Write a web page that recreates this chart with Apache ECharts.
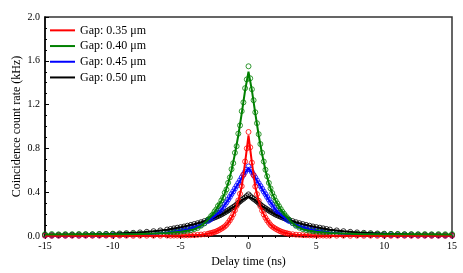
<!DOCTYPE html>
<html>
<head>
<meta charset="utf-8">
<script src="https://cdn.jsdelivr.net/npm/echarts@6/dist/echarts.min.js"></script>
<style>html,body{margin:0;padding:0;background:#fff}#c{width:463px;height:273px}</style>
</head>
<body>
<div id="c"></div>
<script>
// Legend names
var seriesNames = ['Gap: 0.35 \u03bcm', 'Gap: 0.40 \u03bcm', 'Gap: 0.45 \u03bcm', 'Gap: 0.50 \u03bcm'];
var seriesColors = ['#ff0000', '#008000', '#0000ff', '#000000'];

// Fitted curves (delay time in ns, rate in kHz)
var xFit = [-15,-12,-10,-8,-7,-6,-5,-4.5,-4,-3.5,-3,-2.5,-2,-1.75,-1.5,-1.25,-1,-0.75,-0.5,-0.25,0,0.25,0.5,0.75,1,1.25,1.5,1.75,2,2.5,3,3.5,4,4.5,5,6,7,8,10,12,15];
var fitRed   = [0.002,0.002,0.002,0.002,0.003,0.003,0.004,0.006,0.008,0.012,0.020,0.035,0.065,0.085,0.120,0.165,0.230,0.320,0.450,0.670,0.920,0.670,0.450,0.320,0.230,0.165,0.120,0.085,0.065,0.035,0.020,0.012,0.008,0.006,0.004,0.003,0.003,0.002,0.002,0.002,0.002];
var fitGreen = [0.014,0.015,0.016,0.019,0.022,0.028,0.038,0.048,0.062,0.092,0.145,0.220,0.320,0.390,0.480,0.600,0.750,0.920,1.120,1.330,1.500,1.330,1.120,0.920,0.750,0.600,0.480,0.390,0.320,0.220,0.145,0.092,0.062,0.048,0.038,0.028,0.022,0.019,0.016,0.015,0.014];
var fitBlue  = [0.003,0.005,0.008,0.014,0.020,0.030,0.048,0.060,0.077,0.100,0.135,0.180,0.240,0.285,0.330,0.380,0.430,0.480,0.530,0.580,0.620,0.580,0.530,0.480,0.430,0.380,0.330,0.285,0.240,0.180,0.135,0.100,0.077,0.060,0.048,0.030,0.020,0.014,0.008,0.005,0.003];
var fitBlack = [0.008,0.013,0.020,0.032,0.043,0.058,0.080,0.093,0.108,0.125,0.145,0.168,0.195,0.213,0.232,0.252,0.272,0.300,0.325,0.345,0.360,0.345,0.325,0.300,0.272,0.252,0.232,0.213,0.195,0.168,0.145,0.125,0.108,0.093,0.080,0.058,0.043,0.032,0.020,0.013,0.008];

// Measured points
var tS = [-15,-14.5,-14,-13.5,-13,-12.5,-12,-11.5,-11,-10.5,-10,-9.5,-9,-8.5,-8,-7.5,-7,-6.5,
  -6,-5.75,-5.5,-5.25,-5,-4.75,-4.5,-4.25,-4,-3.75,-3.5,-3.25,
  -3,-2.875,-2.75,-2.625,-2.5,-2.375,-2.25,-2.125,-2,-1.875,-1.75,-1.625,-1.5,-1.375,-1.25,-1.125,-1,-0.875,-0.75,-0.625,-0.5,-0.375,-0.25,-0.125,
  0,
  0.125,0.25,0.375,0.5,0.625,0.75,0.875,1,1.125,1.25,1.375,1.5,1.625,1.75,1.875,2,2.125,2.25,2.375,2.5,2.625,2.75,2.875,3,
  3.25,3.5,3.75,4,4.25,4.5,4.75,5,5.25,5.5,5.75,6,
  6.5,7,7.5,8,8.5,9,9.5,10,10.5,11,11.5,12,12.5,13,13.5,14,14.5,15];

var ptsRed = [0.003,0.002,0.003,0.002,0.003,0.002,0.003,0.002,0.003,0.003,0.002,0.003,0.003,0.002,0.003,0.003,0.003,0.003,
  0.004,0.003,0.004,0.004,0.005,0.005,0.006,0.007,0.008,0.010,0.013,0.016,
  0.020,0.024,0.027,0.032,0.036,0.042,0.049,0.057,0.067,0.076,0.087,0.102,0.122,0.143,0.168,0.198,0.235,0.275,0.325,0.385,0.455,0.560,0.680,0.800,
  0.950,
  0.810,0.670,0.555,0.452,0.382,0.322,0.272,0.232,0.197,0.166,0.141,0.121,0.101,0.086,0.076,0.066,0.057,0.049,0.042,0.036,0.031,0.027,0.023,0.020,
  0.016,0.012,0.010,0.008,0.007,0.006,0.005,0.004,0.004,0.004,0.003,0.003,
  0.003,0.003,0.002,0.003,0.002,0.003,0.002,0.003,0.002,0.003,0.002,0.003,0.002,0.003,0.002,0.003,0.002,0.003];

var ptsGreen = [0.016,0.018,0.015,0.017,0.016,0.018,0.017,0.016,0.018,0.017,0.018,0.017,0.019,0.018,0.020,0.021,0.023,0.026,
  0.029,0.030,0.033,0.035,0.039,0.043,0.049,0.053,0.063,0.073,0.094,0.115,
  0.148,0.160,0.183,0.197,0.224,0.243,0.274,0.290,0.325,0.350,0.395,0.425,0.486,0.535,0.610,0.665,0.760,0.820,0.935,1.010,1.140,1.220,1.350,1.430,
  1.550,
  1.440,1.340,1.240,1.130,1.030,0.930,0.840,0.760,0.680,0.605,0.545,0.485,0.435,0.392,0.358,0.322,0.297,0.272,0.247,0.222,0.202,0.182,0.163,0.147,
  0.119,0.093,0.076,0.063,0.055,0.049,0.043,0.039,0.036,0.033,0.031,0.029,
  0.026,0.023,0.021,0.020,0.019,0.018,0.018,0.017,0.017,0.018,0.016,0.017,0.016,0.017,0.016,0.017,0.016,0.017];

var ptsBlue = [0.004,0.003,0.004,0.004,0.005,0.004,0.005,0.006,0.006,0.007,0.008,0.009,0.011,0.012,0.014,0.017,0.020,0.025,
  0.031,0.034,0.039,0.043,0.049,0.054,0.061,0.068,0.078,0.088,0.101,0.118,
  0.136,0.146,0.158,0.169,0.182,0.196,0.212,0.226,0.243,0.263,0.287,0.307,0.333,0.357,0.383,0.407,0.433,0.458,0.484,0.508,0.535,0.560,0.585,0.607,
  0.635,
  0.608,0.584,0.558,0.533,0.507,0.482,0.457,0.432,0.406,0.382,0.356,0.332,0.306,0.286,0.263,0.242,0.226,0.211,0.196,0.181,0.169,0.157,0.146,0.136,
  0.118,0.101,0.089,0.078,0.069,0.061,0.055,0.049,0.044,0.039,0.035,0.031,
  0.025,0.021,0.017,0.014,0.012,0.011,0.010,0.008,0.007,0.007,0.006,0.005,0.005,0.004,0.004,0.004,0.003,0.003];

var ptsBlack = [0.009,0.009,0.010,0.011,0.012,0.013,0.014,0.015,0.017,0.019,0.021,0.023,0.026,0.029,0.033,0.038,0.044,0.051,
  0.059,0.064,0.070,0.076,0.081,0.087,0.094,0.101,0.109,0.117,0.126,0.136,
  0.146,0.151,0.157,0.163,0.169,0.175,0.182,0.189,0.197,0.206,0.215,0.224,0.234,0.244,0.254,0.264,0.275,0.288,0.303,0.316,0.329,0.340,0.352,0.365,
  0.380,
  0.364,0.351,0.339,0.328,0.315,0.302,0.287,0.274,0.263,0.253,0.243,0.233,0.223,0.214,0.205,0.196,0.189,0.182,0.175,0.169,0.163,0.157,0.151,0.146,
  0.136,0.126,0.117,0.109,0.101,0.094,0.087,0.081,0.076,0.070,0.064,0.059,
  0.051,0.044,0.038,0.033,0.029,0.026,0.023,0.021,0.019,0.017,0.015,0.014,0.013,0.012,0.011,0.010,0.009,0.009];

// Axis ticks
var xTicks = { min: -15, max: 15, step: 5 };
var yTicks = { min: 0, max: 2.0, step: 0.4 };

var FONT = '"Liberation Serif", "Times New Roman", serif';
function pairs(xs, ys) { return xs.map(function (x, i) { return [x, ys[i]]; }); }

var fits = [fitRed, fitGreen, fitBlue, fitBlack];
var pts = [ptsRed, ptsGreen, ptsBlue, ptsBlack];
var drawOrder = [3, 2, 0, 1];
var series = [];
drawOrder.forEach(function (k) {
  series.push({
    name: seriesNames[k], type: 'line', data: pairs(xFit, fits[k]),
    symbol: 'none', smooth: false, lineStyle: { color: seriesColors[k], width: 2 },
    itemStyle: { color: seriesColors[k] }, silent: true, animation: false
  });
  series.push({
    name: 'pts' + k, type: 'scatter', data: pairs(tS, pts[k]),
    symbol: 'circle', symbolSize: 5,
    itemStyle: { color: 'rgba(0,0,0,0)', borderColor: seriesColors[k], borderWidth: 1 },
    silent: true, animation: false
  });
});

var chart = echarts.init(document.getElementById('c'), null, { renderer: 'canvas' });
chart.setOption({
  animation: false,
  backgroundColor: '#ffffff',
  grid: { left: 45, right: 11, top: 17, bottom: 37, containLabel: false, outerBoundsMode: 'none', show: true, borderColor: '#333', borderWidth: 1.5, backgroundColor: 'transparent' },
  legend: {
    data: seriesNames.map(function (n) { return { name: n, icon: 'rect' }; }),
    left: 45, top: 19, orient: 'vertical', itemWidth: 25, itemHeight: 2, itemGap: 3,
    textStyle: { fontFamily: FONT, fontSize: 12, color: '#000', lineHeight: 12.7 }
  },
  xAxis: {
    type: 'value', min: xTicks.min, max: xTicks.max, interval: xTicks.step,
    name: 'Delay time (ns)', nameLocation: 'middle', nameGap: 18,
    nameTextStyle: { fontFamily: FONT, fontSize: 12, color: '#000' },
    axisLine: { onZero: false, lineStyle: { color: '#000', width: 1.5 } },
    axisTick: { inside: false, length: 3, lineStyle: { color: '#000' } },
    minorTick: { show: true, splitNumber: 5, length: 2, lineStyle: { color: '#000' } },
    axisLabel: { fontFamily: FONT, fontSize: 10, color: '#000', margin: 5 },
    splitLine: { show: false }
  },
  yAxis: {
    type: 'value', min: yTicks.min, max: yTicks.max, interval: yTicks.step,
    name: 'Coincidence count rate (kHz)', nameLocation: 'middle', nameGap: 22, nameMoveOverlap: false,
    nameTextStyle: { fontFamily: FONT, fontSize: 12, color: '#000' },
    axisLine: { show: true, onZero: false, lineStyle: { color: '#000', width: 1.5 } },
    axisTick: { show: true, inside: true, length: 4, lineStyle: { color: '#000' } },
    minorTick: { show: true, splitNumber: 4, length: 2, lineStyle: { color: '#000' } },
    axisLabel: { fontFamily: FONT, fontSize: 10, color: '#000', margin: 5, formatter: function (v) { return v.toFixed(1); } },
    splitLine: { show: false }
  },
  series: series
});
</script>
</body>
</html>
